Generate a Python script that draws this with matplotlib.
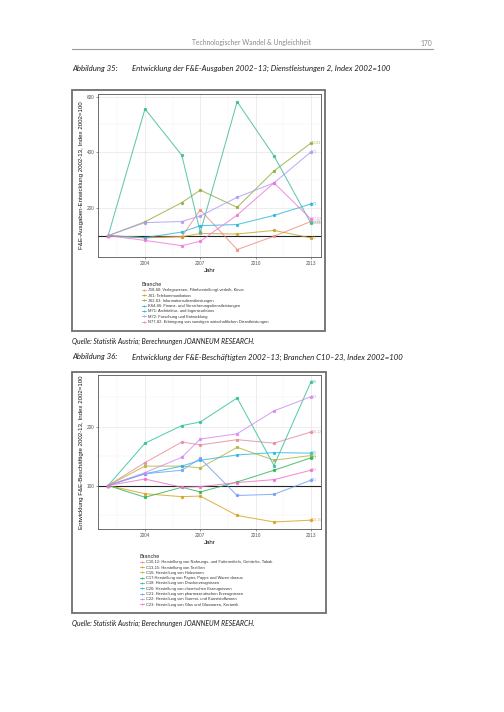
import matplotlib
matplotlib.use("Agg")
import matplotlib.pyplot as plt
from matplotlib.lines import Line2D
from matplotlib.patches import Rectangle

# Page size in pixels (dpi 100)
W, H = 504, 712

# Survey years (biennial R&D survey, plus 2007)
years = [2002, 2004, 2006, 2007, 2009, 2011, 2013]

# Abbildung 35: F&E-Ausgaben, Dienstleistungen 2
dl_codes = ["J58-60", "J61", "J62-63", "K64-66", "M71", "M72", "N77-82"]
dl_labels = [
    "J58-60: Verlagswesen, Filmherstellung/-verleih, Kinos",
    "J61: Telekommunikation",
    "J62-63: Informationsdienstleistungen",
    "K64-66: Finanz- und Versicherungsdienstleistungen",
    "M71: Architektur- und Ingenieurbüros",
    "M72: Forschung und Entwicklung",
    "N77-82: Erbringung von sonstigen wirtschaftlichen Dienstleistungen",
]
dl_j5860 = [100, 92, 97, 193, 50, 98, 151]
dl_j61 = [100, 93, 96, 108, 106, 119, 92]
dl_j6263 = [100, 150, 219, 264, 202, 333, 433]
dl_k6466 = [100, 556, 389, 112, 582, 387, 145]
dl_m71 = [100, 93, 113, 136, 140, 173, 214]
dl_m72 = [100, 147, 151, 171, 238, 290, 401]
dl_n7782 = [100, 83, 64, 80, 174, 290, 160]
dl_series = [dl_j5860, dl_j61, dl_j6263, dl_k6466, dl_m71, dl_m72, dl_n7782]
dl_colors = ["#F08A84", "#C9A227", "#93AC3C", "#3DB99A", "#2FB4DD", "#AE98F5", "#EE78D8"]

# Abbildung 36: F&E-Beschäftigte, Branchen C10-23
c_codes = ["C10-12", "C13-15", "C16", "C17", "C18", "C20", "C21", "C22", "C23"]
c_labels = [
    "C10-12: Herstellung von Nahrungs- und Futtermitteln, Getränke, Tabak",
    "C13-15: Herstellung von Textilien",
    "C16: Herstellung von Holzwaren",
    "C17:Herstellung von Papier, Pappe und Waren daraus",
    "C18: Herstellung von Druckerzeugnissen",
    "C20: Herstellung von chemischen Erzeugnissen",
    "C21: Herstellung von pharmazeutischen Erzeugnissen",
    "C22: Herstellung von Gummi- und Kunststoffwaren",
    "C23: Herstellung von Glas und Glaswaren, Keramik",
]
c_1012 = [100, 139, 174, 169, 178, 172, 191]
c_1315 = [100, 86, 81, 82, 49, 38, 41]
c_16 = [100, 133, 133, 130, 165, 143, 151]
c_17 = [100, 80, 97, 89, 106, 126, 147]
c_18 = [100, 172, 202, 208, 249, 134, 276]
c_20 = [100, 120, 133, 143, 152, 156, 155]
c_21 = [100, 120, 126, 146, 83, 85, 109]
c_22 = [100, 122, 148, 179, 188, 227, 251]
c_23 = [100, 111, 97, 98, 105, 110, 126]
c_series = [c_1012, c_1315, c_16, c_17, c_18, c_20, c_21, c_22, c_23]
c_colors = ["#E88A9A", "#D9A020", "#B5B43A", "#2DB552", "#2FBFA0", "#2FB6E0",
            "#6F9FF5", "#D38AF0", "#F070C8"]

CHART_FONT = ["Liberation Sans", "DejaVu Sans"]
PAGE_FONT = ["Lato", "DejaVu Sans"]


def add_panel(fig, left, top, right, bottom):
    return fig.add_axes([left / W, 1 - bottom / H, (right - left) / W, (bottom - top) / H])


def style_panel(ax, ymajor, yminor):
    ax.set_facecolor("white")
    ax.set_xlim(2001.45, 2013.55)
    ax.set_xticks([2004, 2007, 2010, 2013])
    ax.set_xticks([2002.5, 2005.5, 2008.5, 2011.5], minor=True)
    ax.set_yticks(ymajor)
    ax.set_yticks(yminor, minor=True)
    ax.grid(True, which="major", color="#E6E6E6", lw=0.5)
    ax.grid(True, which="minor", color="#F2F2F2", lw=0.35)
    ax.set_axisbelow(True)
    for sp in ax.spines.values():
        sp.set_color("#555555")
        sp.set_linewidth(0.6)
    ax.tick_params(which="major", length=1.6, width=0.4, color="#444444",
                   labelsize=3.4, labelcolor="#555555", pad=1.2)
    ax.tick_params(which="minor", length=0)
    for lab in ax.get_xticklabels() + ax.get_yticklabels():
        lab.set_family(CHART_FONT)


def draw_chart(fig, panel_box, series, colors, codes, labels, ylim, ymajor, yminor,
               ylabel, legend_xy, box):
    # outer frame of the pasted chart
    bl, bt, br, bb = box
    fig.add_artist(Rectangle((bl / W, 1 - bb / H), (br - bl) / W, (bb - bt) / H,
                             transform=fig.transFigure, fill=False,
                             edgecolor="#6E6E6E", lw=1.3))
    ax = add_panel(fig, *panel_box)
    style_panel(ax, ymajor, yminor)
    ax.set_ylim(*ylim)
    ax.axhline(100, color="#222222", lw=0.8, zorder=2)
    handles = []
    for vals, col, code in zip(series, colors, codes):
        ax.plot(years, vals, color=col, lw=0.75, alpha=0.8, marker="s", ms=1.3,
                mec=col, mfc=col, zorder=3)
        ax.text(years[-1], vals[-1], code, fontsize=2.4, color=col, alpha=0.85,
                ha="left", va="center", family=CHART_FONT, clip_on=True, zorder=4)
        handles.append(Line2D([], [], color=col, lw=0.6, marker="+", ms=2.0,
                              mew=0.6, alpha=0.9))
    ax.set_xlabel("Jahr", fontsize=4.4, family=CHART_FONT, color="#111111", labelpad=1.5)
    ax.set_ylabel(ylabel, fontsize=4.4, family=CHART_FONT, color="#111111", labelpad=1.5)
    lx, ly = legend_xy
    leg = fig.legend(handles, labels, loc="upper left",
                     bbox_to_anchor=(lx / W, 1 - ly / H), frameon=False,
                     fontsize=2.9, title="Branche", title_fontsize=3.9,
                     handlelength=0.9, handletextpad=0.5, labelspacing=0.32,
                     borderpad=0, borderaxespad=0, alignment="left")
    for t in leg.get_texts():
        t.set_family(CHART_FONT)
        t.set_color("#333333")
    leg.get_title().set_family(CHART_FONT)
    leg.get_title().set_color("#222222")
    return ax


fig = plt.figure(figsize=(W / 100, H / 100), dpi=100)
fig.patch.set_facecolor("white")

# page header
fig.text(252 / W, 1 - 43 / H, "Technologischer Wandel & Ungleichheit", ha="center",
         va="center", fontsize=4.9, color="#8A8A8A", family=PAGE_FONT)
fig.text(432 / W, 1 - 43 / H, "170", ha="right", va="center", fontsize=4.9,
         color="#8A8A8A", family=PAGE_FONT)
fig.add_artist(Line2D([72 / W, 433 / W], [1 - 48.5 / H, 1 - 48.5 / H],
                      transform=fig.transFigure, color="#9A9A9A", lw=0.8))

# captions
cap_kw = dict(va="center", fontsize=5.6, style="italic", color="#1A1A1A", family=PAGE_FONT)
fig.text(72 / W, 1 - 68 / H, "Abbildung 35:", **cap_kw)
fig.text(132 / W, 1 - 68 / H,
         "Entwicklung der F&E-Ausgaben 2002–13; Dienstleistungen 2, Index 2002=100", **cap_kw)
fig.text(72 / W, 1 - 357 / H, "Abbildung 36:", **cap_kw)
fig.text(132 / W, 1 - 357 / H,
         "Entwicklung der F&E-Beschäftigten 2002–13; Branchen C10–23, Index 2002=100", **cap_kw)

src_kw = dict(va="center", fontsize=4.85, style="italic", color="#1A1A1A", family=PAGE_FONT)
fig.text(72 / W, 1 - 341 / H, "Quelle: Statistik Austria; Berechnungen JOANNEUM RESEARCH.", **src_kw)
fig.text(72 / W, 1 - 623 / H, "Quelle: Statistik Austria; Berechnungen JOANNEUM RESEARCH.", **src_kw)

draw_chart(fig, (98, 94, 321, 257), dl_series, dl_colors, dl_codes, dl_labels,
           (23.3, 609.7), [200, 400, 600], [100, 300, 500],
           "F&E-Ausgaben-Entwicklung 2002-13, Index 2002=100",
           (142, 282), (72, 90, 325, 331))

draw_chart(fig, (98, 375, 321, 529), c_series, c_colors, c_codes, c_labels,
           (26, 288), [100, 200], [50, 150, 250],
           "Entwicklung F&E-Beschäftigte 2002-13, Index 2002=100",
           (140, 554), (72, 371.5, 325.5, 612.5))

fig.savefig("out.png", dpi=100)
